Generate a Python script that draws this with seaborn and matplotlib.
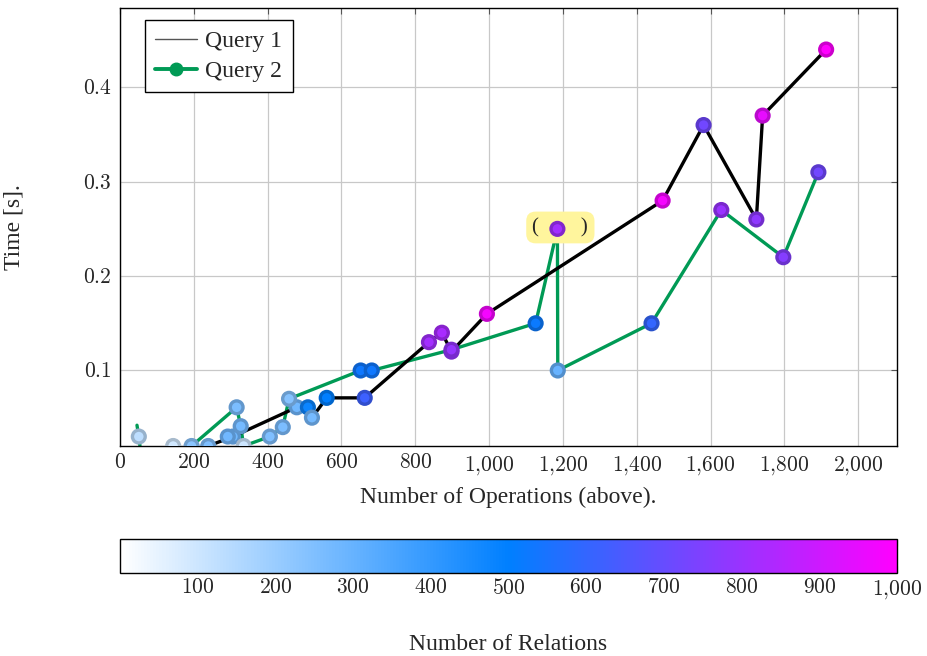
import numpy as np
import pandas as pd
import matplotlib
matplotlib.use("Agg")
import matplotlib.pyplot as plt
import seaborn as sns
from matplotlib.colors import LinearSegmentedColormap, Normalize
from matplotlib.lines import Line2D
from matplotlib.ticker import FixedLocator, FuncFormatter

# ---- data ----
q1_ops = [144, 195, 239, 306, 479, 509, 520, 560, 663, 837, 872, 898, 994, 1470, 1581, 1724, 1741, 1913]
q1_time = [0.02, 0.005, 0.02, 0.03, 0.061, 0.061, 0.05, 0.071, 0.071, 0.13, 0.14, 0.12, 0.16, 0.28, 0.36, 0.26, 0.37, 0.44]
q1_rel = [90, np.nan, 250, 280, 280, 480, 270, 500, 620, 820, 830, 790, 980, 980, 720, 780, 950, 1000]

q2_ops = [46, 51, 60, 194, 316, 327, 335, 406, 441, 458, 652, 682, 898, 1126, 1185, 1186, 1440, 1629, 1797, 1892]
q2_time = [0.042, 0.03, 0.0, 0.02, 0.061, 0.041, 0.02, 0.03, 0.04, 0.07, 0.10, 0.10, 0.122, 0.15, 0.25, 0.10, 0.15, 0.27, 0.22, 0.31]
q2_rel = [np.nan, 130, np.nan, 230, 260, 270, 100, 250, 260, 240, 530, 530, 790, 520, 820, 300, 600, 800, 760, 720]

extra_ops = [292]
extra_time = [0.03]
extra_rel = [280]

x_ticks = [0, 200, 400, 600, 800, 1000, 1200, 1400, 1600, 1800, 2000]
y_ticks = [0.1, 0.2, 0.3, 0.4]
cbar_ticks = [100, 200, 300, 400, 500, 600, 700, 800, 900, 1000]

GREEN = "#009a55"
TXT = 17
TCK = 15.5

sns.set_theme(style="white")
plt.rcParams["font.family"] = ["Liberation Serif", "DejaVu Serif"]
plt.rcParams["mathtext.fontset"] = "cm"

cmap = LinearSegmentedColormap.from_list(
    "rel", [(0.0, (1, 1, 1)), (0.5, (0, 0.5, 1)), (1.0, (1, 0, 1))])
norm = Normalize(0, 1000)

fig = plt.figure(figsize=(9.28, 6.56), dpi=100)
ax = fig.add_axes([120/928, 1-446/656, 777/928, 438/656])
cax = fig.add_axes([120/928, 1-573/656, 777/928, 34/656])

df1 = pd.DataFrame({"ops": q1_ops, "time": q1_time, "rel": q1_rel})
df2 = pd.DataFrame({"ops": q2_ops, "time": q2_time, "rel": q2_rel})
dfe = pd.DataFrame({"ops": extra_ops, "time": extra_time, "rel": extra_rel})

sns.lineplot(data=df2, x="ops", y="time", sort=False, estimator=None,
             color=GREEN, lw=2.4, ax=ax, zorder=2)
sns.lineplot(data=df1, x="ops", y="time", sort=False, estimator=None,
             color="black", lw=2.4, ax=ax, zorder=2)

ax.text(1193, 0.2515, "(        )", ha="center", va="center", fontsize=TXT - 2,
        zorder=3,
        bbox=dict(boxstyle="round,pad=0.3,rounding_size=0.45", fc="#fff59d", ec="none"))

pts = pd.concat([df1, df2, dfe]).dropna(subset=["rel"])
sns.scatterplot(data=pts, x="ops", y="time", hue="rel", palette=cmap,
                hue_norm=norm, s=85, linewidth=2.4, legend=False, ax=ax, zorder=4)
coll = ax.collections[-1]
fc = np.array(coll.get_facecolors())
ec = fc.copy()
ec[:, :3] *= 0.8
coll.set_edgecolors(ec)

ax.set_xlim(0, 2105)
ax.set_ylim(0.02, 0.484)
ax.xaxis.set_major_locator(FixedLocator(x_ticks))
ax.yaxis.set_major_locator(FixedLocator(y_ticks))

def fmt_thousands(v, pos=None):
    v = int(round(v))
    if v >= 1000:
        return r"$%d{,}%03d$" % (v // 1000, v % 1000)
    return r"$%d$" % v

ax.xaxis.set_major_formatter(FuncFormatter(fmt_thousands))
ax.yaxis.set_major_formatter(FuncFormatter(lambda v, p: r"$%.1f$" % v))
ax.grid(True, color="#c8c8c8", lw=0.9)
ax.set_axisbelow(True)
ax.tick_params(direction="in", length=4, width=0.8, color="#555555",
               top=True, right=True, labelsize=TCK, pad=6)
for s in ax.spines.values():
    s.set_color("black")
    s.set_linewidth(1.0)

ax.set_xlabel("Number of Operations (above).", fontsize=TXT)
ax.set_ylabel("Time [s].", fontsize=TXT)
ax.xaxis.set_label_coords(0.5, -(487 - 446) / 438)
ax.yaxis.set_label_coords(-(120 - 24) / 777, 0.5)

handles = [Line2D([0], [0], color="#555555", lw=1.0),
           Line2D([0], [0], color=GREEN, lw=2.8, marker="o", ms=9)]
leg = ax.legend(handles, ["Query 1", "Query 2"], loc="upper left",
                bbox_to_anchor=(0.032, 0.973), borderaxespad=0, fancybox=False,
                edgecolor="black", framealpha=1, fontsize=TXT,
                handlelength=1.75, borderpad=0.45, labelspacing=0.35, handletextpad=0.35)
leg.get_frame().set_linewidth(1.0)

sm = plt.cm.ScalarMappable(norm=norm, cmap=cmap)
cb = fig.colorbar(sm, cax=cax, orientation="horizontal")
cb.set_ticks(cbar_ticks)
cb.ax.xaxis.set_major_formatter(FuncFormatter(fmt_thousands))
cb.ax.tick_params(direction="in", length=5, width=0.8, color="#777777",
                  top=True, bottom=True, labelsize=TCK, pad=4)
cb.outline.set_linewidth(1.0)
cb.outline.set_edgecolor("black")
cb.set_label("Number of Relations", fontsize=TXT)
cax.xaxis.set_label_coords(0.5, -(634 - 573) / 34)

fig.savefig("out.png", dpi=100)
